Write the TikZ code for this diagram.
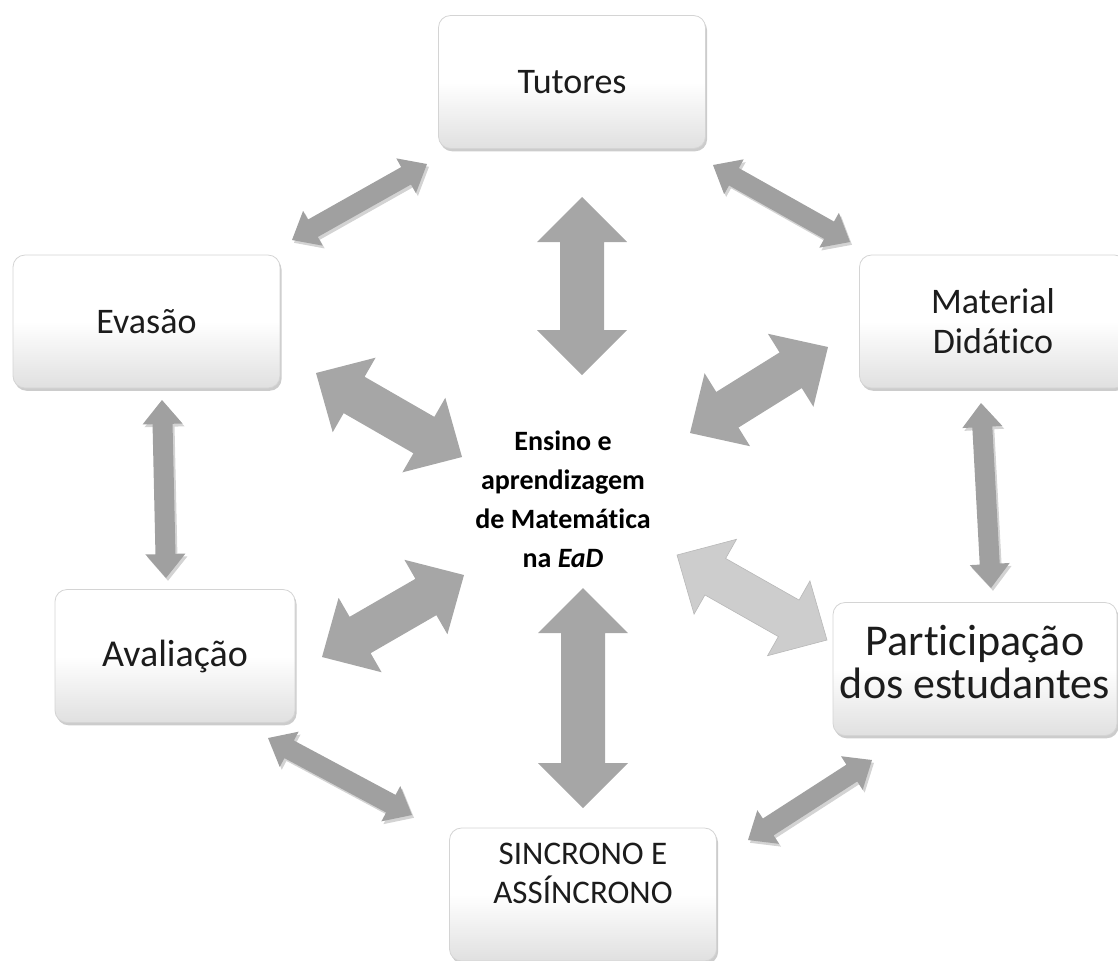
\documentclass[tikz,border=0pt]{standalone}
\usepackage{fontspec}
\setmainfont{Carlito}[Ligatures=NoCommon]
\usetikzlibrary{calc,shadows}
\definecolor{ArrowGrey}{RGB}{166,166,166}
\definecolor{RingGrey}{RGB}{160,160,160}
\definecolor{ArrowLight}{RGB}{205,205,205}
\definecolor{BoxLine}{RGB}{212,212,212}
\definecolor{BoxBottom}{RGB}{224,224,224}
\definecolor{TextDark}{RGB}{28,28,28}
\tikzset{
  topicbox/.style={draw=BoxLine,line width=0.4pt,rounded corners=6pt,
    top color=white,bottom color=BoxBottom,middle color=white,
    minimum width=133.5pt,minimum height=66.5pt,align=center,
    font=\fontsize{18}{20}\selectfont,text=TextDark,
    drop shadow={shadow xshift=0.8pt,shadow yshift=-1.4pt,opacity=.4}},
  hubtext/.style={align=center,font=\fontsize{14}{19.5}\selectfont\bfseries,text=black},
  hubarrow/.style={fill=ArrowGrey},
  palearrow/.style={fill=ArrowLight,draw=black!28,line width=0.3pt},
  ringarrow/.style={fill=RingGrey,
    drop shadow={shadow xshift=1pt,shadow yshift=-1.4pt,opacity=.35}}
}
% block double arrow: style, tip, tip, body half width, head half width, head length
\newcommand{\blockarrow}[6][]{%
  \path[#1] (#2)
    -- ($(#2)!#6!(#3)!#5!90:(#3)$) -- ($(#2)!#6!(#3)!#4!90:(#3)$)
    -- ($(#3)!#6!(#2)!#4!-90:(#2)$) -- ($(#3)!#6!(#2)!#5!-90:(#2)$)
    -- (#3)
    -- ($(#3)!#6!(#2)!#5!90:(#2)$) -- ($(#3)!#6!(#2)!#4!90:(#2)$)
    -- ($(#2)!#6!(#3)!#4!-90:(#3)$) -- ($(#2)!#6!(#3)!#5!-90:(#3)$)
    -- cycle;}

\begin{document}
\begin{tikzpicture}[x=0.5pt,y=-0.5pt]
  \useasboundingbox (0,0) rectangle (1118,960);
  \clip (0,0) rectangle (1118,960);

  % topics around the hub
  \node[topicbox] (tut) at (572,82) {Tutores};
  \node[topicbox] (eva) at (146.5,321.5) {Evasão};
  \node[topicbox] (mat) at (993,321.5) {Material\\Didático};
  \node[topicbox,minimum width=120pt,font=\fontsize{19}{20}\selectfont]
    (ava) at (175,656) {Avaliação};
  \node[topicbox,minimum width=142pt,font=\fontsize{22}{20}\selectfont]
    (par) at (975,669) {\raisebox{-4.5pt}[0pt][0pt]{\begin{tabular}{@{}c@{}}Participação\\dos estudantes\end{tabular}}};
  \node[topicbox,font=\fontsize{16.5}{19.5}\selectfont] (sin) at (583,894.5)
    {\raisebox{5pt}[0pt][0pt]{\begin{tabular}{@{}c@{}}SINCRONO E\\ASSÍNCRONO\end{tabular}}};

  \node[hubtext] (hub) at (563,499)
    {Ensino e\\aprendizagem\\de Matemática\\na \textit{EaD}};

  % arrow ends
  \coordinate (hubN) at (582,197);   \coordinate (tutS) at (582,375);
  \coordinate (hubS) at (583,588);   \coordinate (sinN) at (583,808);
  \coordinate (evaE) at (316,373);   \coordinate (hubNW) at (462,457);
  \coordinate (matW) at (828,347);   \coordinate (hubNE) at (690,433);
  \coordinate (avaE) at (322,657);   \coordinate (hubSW) at (464,575);
  \coordinate (parW) at (827,640);   \coordinate (hubSE) at (677,555);
  \coordinate (tutW) at (427,164);   \coordinate (evaNE) at (292,240);
  \coordinate (tutE) at (713,165);   \coordinate (matNW) at (850,242);
  \coordinate (evaS) at (162,400);   \coordinate (avaN) at (166,578);
  \coordinate (matS) at (981,403);   \coordinate (parN) at (991,588);
  \coordinate (avaSE) at (268,738);  \coordinate (sinW) at (412,815);
  \coordinate (parSW) at (872,760);  \coordinate (sinE) at (748,840);

  % spokes to the hub
  \blockarrow[hubarrow]{hubN}{tutS}{11pt}{22.5pt}{22.5pt}
  \blockarrow[hubarrow]{hubS}{sinN}{11pt}{22.5pt}{22.5pt}
  \blockarrow[hubarrow]{evaE}{hubNW}{10.5pt}{21.5pt}{22pt}
  \blockarrow[hubarrow]{matW}{hubNE}{10.5pt}{21.5pt}{22pt}
  \blockarrow[hubarrow]{avaE}{hubSW}{10.5pt}{21.5pt}{22pt}
  \blockarrow[palearrow]{parW}{hubSE}{10.5pt}{21.5pt}{22pt}

  % ring between neighbours
  \blockarrow[ringarrow]{tutW}{evaNE}{5pt}{10pt}{12pt}
  \blockarrow[ringarrow]{tutE}{matNW}{5pt}{10pt}{12pt}
  \blockarrow[ringarrow]{evaS}{avaN}{5pt}{10pt}{12pt}
  \blockarrow[ringarrow]{matS}{parN}{5pt}{10pt}{12pt}
  \blockarrow[ringarrow]{avaSE}{sinW}{5pt}{10pt}{12pt}
  \blockarrow[ringarrow]{parSW}{sinE}{5pt}{10pt}{12pt}
\end{tikzpicture}
\end{document}
